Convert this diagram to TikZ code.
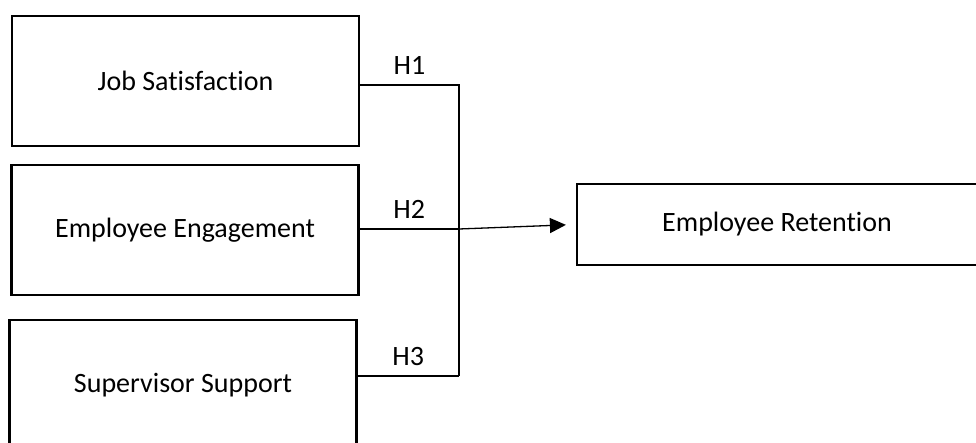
\documentclass[tikz,border=0pt]{standalone}
\usepackage{fontspec}
\setmainfont[Ligatures=NoCommon]{Carlito}
\usetikzlibrary{arrows.meta}

\tikzset{
  varbox/.style={draw, line width=2.2pt, minimum width=347pt, minimum height=130pt,
    inner sep=0pt, font=\fontsize{28}{32}\selectfont},
  hyplabel/.style={font=\fontsize{28}{30}\selectfont, inner sep=0pt, above=10pt},
  link/.style={line width=1.3pt},
}

\begin{document}
\begin{tikzpicture}[x=1pt, y=-1pt]
  \useasboundingbox (0,0) rectangle (976,443);

  % predictors
  \node[varbox] (js) at (185.5,81) {Job Satisfaction};
  \node[varbox] (ee) at (185,230) {Employee Engagement};
  \node[varbox] (ss) at (183,385) {Supervisor Support};

  % outcome
  \node[varbox, minimum width=400pt, minimum height=81pt] (er) at (777,224.5) {Employee Retention};

  % junction points
  \coordinate (j1) at (459,85);
  \coordinate (j2) at (459,229);
  \coordinate (j3) at (459,376);

  \draw[link] (js.east |- j1) -- node[hyplabel] {H1} (j1) -- (j3);
  \draw[link] (ee.east |- j2) -- node[hyplabel] {H2} (j2);
  \draw[link] (ss.east |- j3) -- node[hyplabel] {H3} (j3);
  \draw[link, -{Triangle[length=16pt, width=15pt]}, shorten >=10pt] (j2) -- (er.west);
\end{tikzpicture}
\end{document}
